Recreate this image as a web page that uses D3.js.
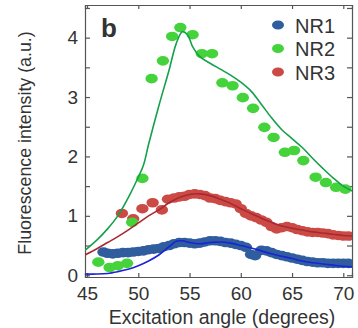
<!DOCTYPE html>
<html>
<head>
<meta charset="utf-8">
<script src="https://cdn.jsdelivr.net/npm/d3@7"></script>
<style>
  body { margin: 0; background: #fff; }
  text { font-family: "Liberation Sans", Arial, sans-serif; fill: #333; }
</style>
</head>
<body>
<div id="chart"></div>
<script>
// measured points [angle, intensity]
const nr1Points = [[46.6, 0.39], [47, 0.37], [47.5, 0.36], [48, 0.37], [48.5, 0.38], [49, 0.38], [49.5, 0.39], [50, 0.4],
  [50.5, 0.41], [51, 0.43], [51.5, 0.44], [52, 0.45], [52.5, 0.48], [53, 0.5], [53.5, 0.53], [54, 0.55], [54.5, 0.55],
  [55, 0.54], [55.5, 0.53], [56, 0.54], [56.5, 0.56], [57, 0.58], [57.5, 0.58], [58, 0.57], [58.5, 0.55], [59, 0.54],
  [59.5, 0.52], [60, 0.5], [60.5, 0.47], [61, 0.35], [61.4, 0.33], [62, 0.42], [62.5, 0.41], [63, 0.38], [63.5, 0.35],
  [64, 0.33], [64.5, 0.31], [65, 0.29], [65.5, 0.27], [66, 0.25], [66.5, 0.23], [67, 0.22], [67.5, 0.21], [68, 0.21],
  [68.5, 0.2], [69, 0.2], [69.5, 0.2], [70, 0.2], [70.5, 0.2]];
const nr2Points = [[46.1, 0.22], [47.2, 0.13], [48, 0.16], [48.9, 0.2], [49.4, 0.89], [50.4, 1.63], [51.3, 3.31],
  [52.4, 3.61], [53.3, 4.02], [54.1, 4.17], [55.3, 4.05], [56.2, 3.73], [57.2, 3.73], [58.2, 3.24], [59.2, 3.19],
  [60.2, 2.99], [61.2, 2.81], [62.3, 2.49], [63.2, 2.32], [64.3, 2.07], [65.2, 2.1], [66.1, 1.93], [67.3, 1.65],
  [68.3, 1.56], [69.3, 1.48], [70.2, 1.45]];
const nr3Points = [[48.4, 1.04], [49.5, 0.95], [50.4, 1.12], [51.4, 1.22], [52.3, 1.1], [52.9, 1.28], [53.5, 1.3],
  [54, 1.32], [54.5, 1.33], [55, 1.36], [55.5, 1.37], [56, 1.36], [56.5, 1.34], [57, 1.3], [57.5, 1.29], [58, 1.26],
  [58.5, 1.24], [59, 1.22], [59.5, 1.2], [60, 1.12], [60.5, 1.04], [61, 1.0], [61.5, 0.97], [62, 0.93], [62.5, 0.89],
  [63, 0.82], [63.5, 0.78], [64, 0.8], [64.5, 0.82], [65, 0.8], [65.5, 0.77], [66, 0.75], [66.5, 0.73], [67, 0.72],
  [67.5, 0.72], [68, 0.71], [68.5, 0.7], [69, 0.68], [69.5, 0.67], [70, 0.66], [70.5, 0.66]];

// fitted curves
const nr1Fit = [[44.8, 0.02], [46, 0.02], [47, 0.03], [48, 0.06], [49, 0.1], [50, 0.16], [51, 0.24], [52, 0.34],
  [53, 0.48], [53.7, 0.57], [54.3, 0.58], [55, 0.55], [56, 0.53], [57, 0.55], [58, 0.56], [59, 0.54], [60, 0.5],
  [61, 0.46], [62, 0.41], [63, 0.36], [64, 0.32], [65, 0.28], [66, 0.24], [67, 0.21], [68, 0.19], [69, 0.17],
  [70, 0.15], [71, 0.14]];
const nr2Fit = [[44.8, 0.42], [46, 0.6], [47, 0.78], [48, 1.0], [49, 1.3], [50, 1.65], [50.5, 1.85], [51, 2.2],
  [52, 2.85], [53, 3.45], [53.7, 3.9], [54.3, 4.1], [54.8, 4.05], [55.3, 3.85], [56, 3.68], [57, 3.57], [58, 3.47],
  [59, 3.37], [60, 3.25], [61, 3.1], [62, 2.88], [63, 2.65], [64, 2.45], [65, 2.3], [66, 2.15], [67, 1.97],
  [68, 1.8], [69, 1.64], [70, 1.5], [71, 1.41]];
const nr3Fit = [[44.8, 0.34], [46, 0.45], [47, 0.55], [48, 0.65], [49, 0.76], [50, 0.88], [51, 1.0], [52, 1.1],
  [53, 1.22], [54, 1.31], [55, 1.36], [56, 1.37], [57, 1.34], [58, 1.28], [59, 1.21], [60, 1.12], [61, 1.04],
  [62, 0.96], [63, 0.89], [64, 0.83], [65, 0.79], [66, 0.76], [67, 0.73], [68, 0.71], [69, 0.69], [70, 0.67],
  [71, 0.66]];

const seriesNames = ['NR1', 'NR2', 'NR3'];
const xTicks = [45, 50, 55, 60, 65, 70];
const yTicks = [0, 1, 2, 3, 4];
const yMinorTicks = [0, 0.5, 1, 1.5, 2, 2.5, 3, 3.5, 4, 4.5];

const width = 358, height = 328;
const plot = {left: 85, right: 352, top: 5, bottom: 277};

const svg = d3.select('#chart').append('svg')
  .attr('width', width)
  .attr('height', height);

const x = d3.scaleLinear().domain([44.8, 70.85]).range([plot.left, plot.right]);
const y = d3.scaleLinear().domain([-0.03, 4.55]).range([plot.bottom, plot.top]);

svg.append('clipPath').attr('id', 'clip')
  .append('rect')
    .attr('x', plot.left).attr('y', plot.top)
    .attr('width', plot.right - plot.left).attr('height', plot.bottom - plot.top);

// axes: ticks pointing inward, labels outside
const axisColor = '#555';
const bottomAxis = svg.append('g')
  .attr('transform', `translate(0, ${plot.bottom})`)
  .call(d3.axisBottom(x).tickValues(xTicks).tickSize(-4).tickPadding(10));
const topAxis = svg.append('g')
  .attr('transform', `translate(0, ${plot.top})`)
  .call(d3.axisTop(x).tickValues(xTicks).tickSize(-4).tickFormat(''));
const leftAxis = svg.append('g')
  .attr('transform', `translate(${plot.left}, 0)`)
  .call(d3.axisLeft(y).tickValues(yMinorTicks).tickSize(-5).tickPadding(7)
    .tickFormat(d => yTicks.includes(d) ? d : ''));
const rightAxis = svg.append('g')
  .attr('transform', `translate(${plot.right}, 0)`)
  .call(d3.axisRight(y).tickValues(yMinorTicks).tickSize(-5).tickFormat(''));

[bottomAxis, topAxis, leftAxis, rightAxis].forEach(g => {
  g.select('.domain').attr('stroke', axisColor).attr('stroke-width', 1.2);
  g.selectAll('.tick line').attr('stroke', axisColor).attr('stroke-width', 1.2);
  g.selectAll('.tick text').attr('font-size', 19).attr('fill', '#333')
    .style('font-family', '"Liberation Sans", Arial, sans-serif');
});

// axis titles
svg.append('text')
  .attr('x', 222)
  .attr('y', 324)
  .attr('text-anchor', 'middle')
  .attr('font-size', 19.5)
  .text('Excitation angle (degrees)');
svg.append('text')
  .attr('transform', `translate(31, 143) rotate(-90)`)
  .attr('text-anchor', 'middle')
  .attr('font-size', 17.8)
  .text('Fluorescence intensity (a.u.)');

// panel letter
svg.append('text')
  .attr('x', 101)
  .attr('y', 37)
  .attr('font-size', 26)
  .attr('font-weight', 'bold')
  .attr('fill', '#111')
  .text('b');

const dotColors = {NR1: '#2f5d9e', NR2: '#45d33c', NR3: '#cb4a45'};
const lineColors = {NR1: '#1c22d6', NR2: '#16a04c', NR3: '#a82a30'};
const points = {NR1: nr1Points, NR2: nr2Points, NR3: nr3Points};
const fits = {NR1: nr1Fit, NR2: nr2Fit, NR3: nr3Fit};

const dataGroup = svg.append('g').attr('clip-path', 'url(#clip)');

// dots first, fitted lines over them
['NR3', 'NR1', 'NR2'].forEach(name => {
  dataGroup.append('g')
    .attr('fill', dotColors[name])
    .selectAll('ellipse')
    .data(points[name])
    .join('ellipse')
      .attr('cx', d => x(d[0]))
      .attr('cy', d => y(d[1]))
      .attr('rx', 6.2)
      .attr('ry', 4.8);
});

const line = d3.line()
  .x(d => x(d[0]))
  .y(d => y(d[1]))
  .curve(d3.curveCatmullRom);

['NR3', 'NR1', 'NR2'].forEach(name => {
  dataGroup.append('path')
    .datum(fits[name])
    .attr('fill', 'none')
    .attr('stroke', lineColors[name])
    .attr('stroke-width', 1.6)
    .attr('d', line);
});

// legend
const legend = svg.append('g')
  .selectAll('.legend-item')
  .data(seriesNames)
  .join('g')
    .attr('class', 'legend-item')
    .attr('transform', (d, i) => `translate(278, ${25 + i * 23.5})`);
legend.append('ellipse')
  .attr('rx', 6)
  .attr('ry', 4.6)
  .attr('fill', d => dotColors[d]);
legend.append('text')
  .attr('x', 17)
  .attr('y', 7.5)
  .attr('font-size', 20)
  .text(d => d);
</script>
</body>
</html>
